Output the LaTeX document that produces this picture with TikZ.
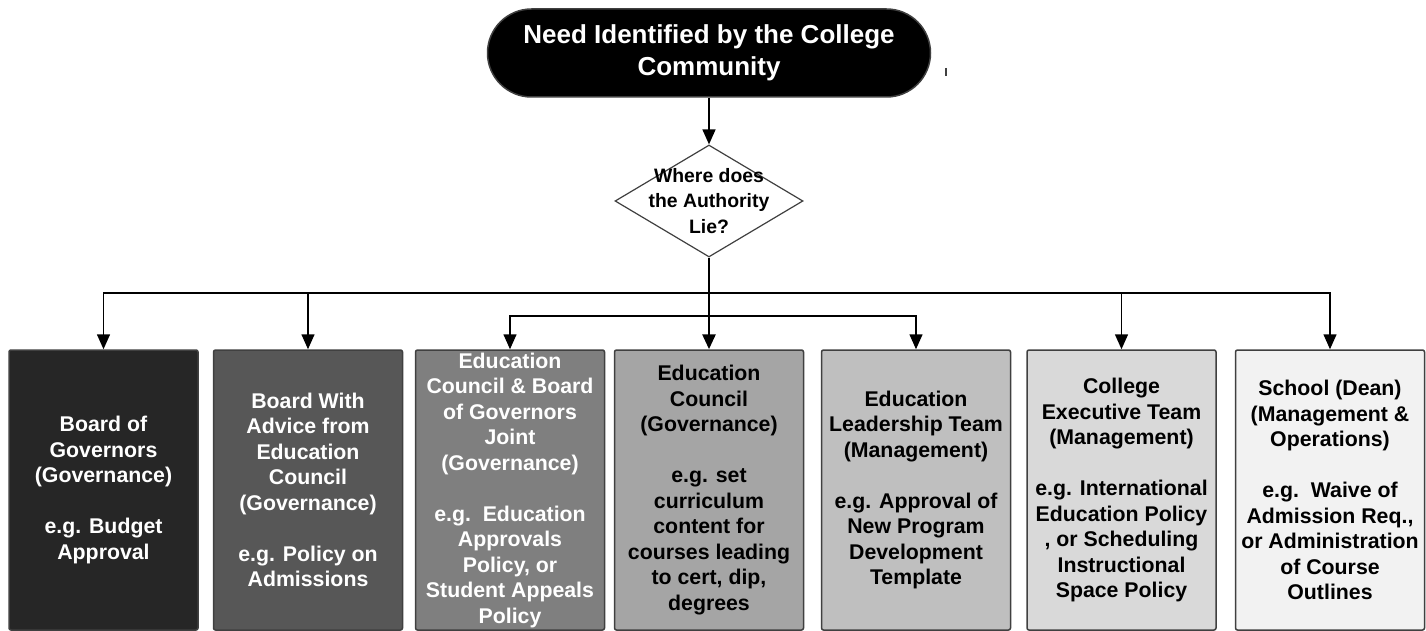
\documentclass[tikz,border=0pt]{standalone}
\usepackage{fontspec}
\setmainfont{Liberation Sans}
\usetikzlibrary{shapes.geometric,arrows.meta}
\definecolor{boxline}{HTML}{404040}
\definecolor{shadeone}{HTML}{262626}
\definecolor{shadetwo}{HTML}{575757}
\definecolor{shadethree}{HTML}{7F7F7F}
\definecolor{shadefour}{HTML}{A5A5A5}
\definecolor{shadefive}{HTML}{BFBFBF}
\definecolor{shadesix}{HTML}{D9D9D9}
\definecolor{shadeseven}{HTML}{F2F2F2}
\tikzset{
  box/.style={draw=boxline, line width=0.75pt, rounded corners=1pt,
    minimum width=94.5pt, minimum height=140pt, inner sep=1pt, align=center,
    font=\bfseries\fontsize{10.65}{12.75}\selectfont},
  darkbox/.style={box, text=white},
  arr/.style={draw=black, line width=0.75pt, -{Triangle[width=6.5pt,length=7.5pt]}},
}
\begin{document}
\begin{tikzpicture}[x=0.5pt,y=-0.5pt]
  \useasboundingbox (0,0) rectangle (1426,631);
  % top of the chart
  \node[fill=black, draw=boxline, line width=0.75pt, rounded corners=22pt,
    minimum width=221.5pt, minimum height=44pt, text=white, align=center,
    font=\bfseries\fontsize{13}{16}\selectfont] (need) at (709,53)
    {Need Identified by the College\\Community};
  \draw[boxline, line width=0.75pt] (946,68) -- (946,76);
  \node[diamond, draw=boxline, line width=0.6pt, fill=white, inner sep=0pt,
    minimum width=94pt, minimum height=56pt] (auth) at (709,201) {};
  \node[align=center, font=\bfseries\fontsize{9.7}{12.75}\selectfont]
    (authtext) at (auth.center) {Where does\\the Authority\\Lie?};
  \coordinate (bus) at (709,293);
  \coordinate (bustwo) at (709,316);

  % the seven boxes
  \node[darkbox, fill=shadeone] (b1) at (103.5,490)
    {Board of\\Governors\\(Governance)\\[12.75pt]e.g. Budget\\Approval};
  \node[darkbox, fill=shadetwo] (b2) at (308,490)
    {Board With\\Advice from\\Education\\Council\\(Governance)\\[12.75pt]e.g. Policy on\\Admissions};
  \node[darkbox, fill=shadethree] (b3) at (510,490)
    {Education\\Council \& Board\\of Governors\\Joint\\(Governance)\\[12.75pt]e.g.\ \ Education\\Approvals\\Policy, or\\Student Appeals\\Policy};
  \node[box, fill=shadefour] (b4) at (709,490)
    {Education\\Council\\(Governance)\\[12.75pt]e.g. set\\curriculum\\content for\\courses leading\\to cert, dip,\\degrees};
  \node[box, fill=shadefive] (b5) at (916,490)
    {Education\\Leadership Team\\(Management)\\[12.75pt]e.g. Approval of\\New Program\\Development\\Template};
  \node[box, fill=shadesix] (b6) at (1121.5,490)
    {College\\Executive Team\\(Management)\\[12.75pt]e.g. International\\Education Policy\\, or Scheduling\\Instructional\\Space Policy};
  \node[box, fill=shadeseven] (b7) at (1330,490)
    {School (Dean)\\(Management \&\\Operations)\\[12.75pt]e.g.\ \ Waive of\\Admission Req.,\\or Administration\\of Course\\Outlines};

  % connectors
  \draw[arr] (need) -- (auth);
  \draw[arr, line width=1.4pt] (auth) -- (b4);
  \foreach \b in {b1,b2,b6,b7}
    \draw[arr] (bus) -| (\b);
  \foreach \b in {b3,b5}
    \draw[arr] (bustwo) -| (\b);
\end{tikzpicture}
\end{document}
